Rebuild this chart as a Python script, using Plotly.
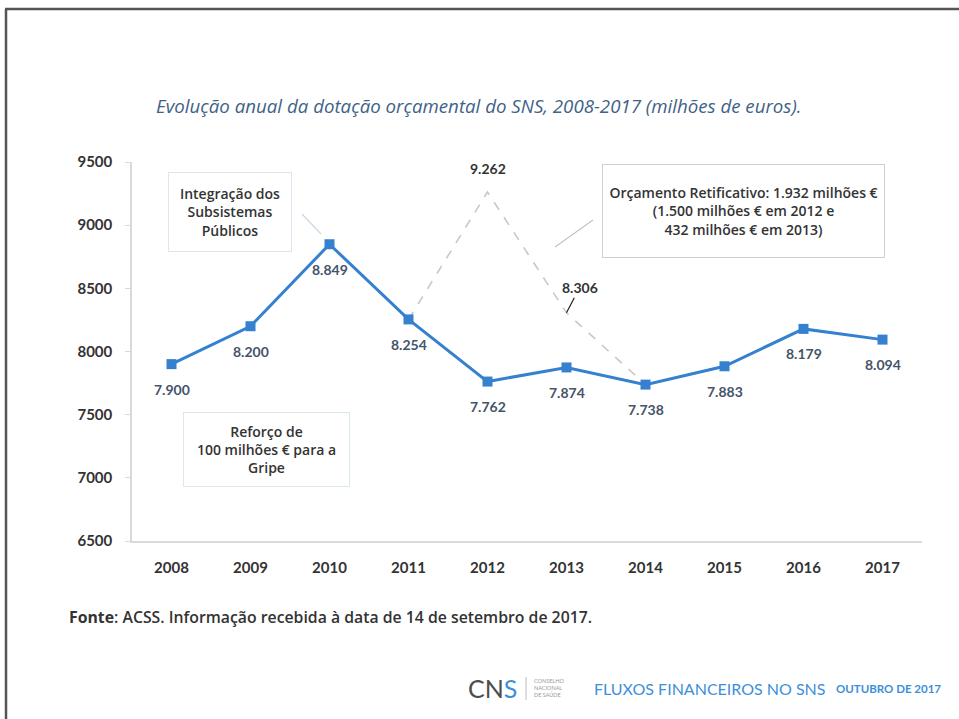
import plotly.graph_objects as go

# Annual SNS budget allocation (million euros)
years = [2008, 2009, 2010, 2011, 2012, 2013, 2014, 2015, 2016, 2017]
year_labels = ["2008", "2009", "2010", "2011", "2012", "2013", "2014", "2015", "2016", "2017"]
budget = [7900, 8200, 8849, 8254, 7762, 7874, 7738, 7883, 8179, 8094]

# Amended budget (Orçamento Retificativo) path 2011-2014
amended_years = [2011, 2012, 2013, 2014]
amended_values = [8254, 9262, 8306, 7738]

y_ticks = [6500, 7000, 7500, 8000, 8500, 9000, 9500]

FONT = "Lato"
TEXT_FONT = "Open Sans"
LINE_BLUE = "#3580cf"
LABEL_COL = "#44546a"
TEXT_DARK = "#333333"
BRAND_BLUE = "#3d8fd9"


def pt(v):
    return f"{v:,}".replace(",", ".")


# plot area in pixels: x 132..922, y 162..541
L, R, T, B = 132, 922, 162, 541


def px(x):
    return (x - L) / (R - L)


def py(y):
    return (B - y) / (B - T)


fig = go.Figure()

fig.add_trace(go.Scatter(
    x=amended_years, y=amended_values, mode="lines",
    line=dict(color="#c8c8c8", width=1.6, dash="dash"),
    hoverinfo="skip", showlegend=False,
))

fig.add_trace(go.Scatter(
    x=years, y=budget, mode="lines+markers",
    line=dict(color=LINE_BLUE, width=3),
    marker=dict(symbol="square", size=10, color=LINE_BLUE),
    showlegend=False,
))

annotations = []

# value labels under each point
for x, v in zip(years, budget):
    annotations.append(dict(
        x=x, y=v, xref="x", yref="y", text=pt(v), showarrow=False,
        yshift=-25, font=dict(family=FONT, size=14, color=LABEL_COL, weight="bold"),
    ))

# amended budget labels
annotations.append(dict(
    x=amended_years[1], y=amended_values[1], xref="x", yref="y",
    text=pt(amended_values[1]), showarrow=False, yshift=24,
    font=dict(family=FONT, size=14, color=TEXT_DARK, weight="bold"),
))
annotations.append(dict(
    x=amended_years[2], y=amended_values[2], xref="x", yref="y",
    text=pt(amended_values[2]), showarrow=True, ax=13, ay=-25,
    arrowhead=0, arrowwidth=1.2, arrowcolor="#222222", standoff=0,
    font=dict(family=FONT, size=14, color=TEXT_DARK, weight="bold"),
))

# callout boxes
box_font = dict(family=TEXT_FONT, size=14, color=TEXT_DARK, weight=600)
annotations.append(dict(
    x=px(230), y=py(212), xref="paper", yref="paper",
    text="Integração dos<br>Subsistemas<br>Públicos", showarrow=False,
    width=122, height=78, borderpad=0, borderwidth=1, bordercolor="#dbe7f0",
    xanchor="center", yanchor="middle", font=box_font,
))
annotations.append(dict(
    x=px(266.5), y=py(449.5), xref="paper", yref="paper",
    text="Reforço de<br>100 milhões € para a<br>Gripe", showarrow=False,
    width=165, height=73, borderpad=0, borderwidth=1, bordercolor="#dbe7f0",
    xanchor="center", yanchor="middle", font=box_font,
))
annotations.append(dict(
    x=px(743.5), y=py(211), xref="paper", yref="paper",
    text="Orçamento Retificativo: 1.932 milhões €<br>(1.500 milhões € em 2012 e<br>432 milhões € em 2013)",
    showarrow=False, width=281, height=92, borderpad=0, borderwidth=1,
    bordercolor="#cfcfcf", xanchor="center", yanchor="middle", font=box_font,
))

# title
annotations.append(dict(
    x=px(478.5), y=py(105), xref="paper", yref="paper",
    text="Evolução anual da dotação orçamental do SNS, 2008-2017 (milhões de euros).",
    showarrow=False, xanchor="center", yanchor="middle",
    font=dict(family=TEXT_FONT, size=18.7, color="#3f6286", style="italic"),
))

# source note
annotations.append(dict(
    x=px(67), y=py(617), xref="paper", yref="paper",
    text="<b>Fonte</b>: ACSS. Informação recebida à data de 14 de setembro de 2017.",
    showarrow=False, xanchor="left", yanchor="middle",
    font=dict(family=TEXT_FONT, size=15.8, color=TEXT_DARK, weight=600),
))

# footer branding
annotations.append(dict(
    x=px(466), y=py(688), xref="paper", yref="paper",
    text=f"CN<span style='color:{BRAND_BLUE}'>S</span>",
    showarrow=False, xanchor="left", yanchor="middle",
    font=dict(family=FONT, size=25, color="#4d4d4d"),
))
annotations.append(dict(
    x=px(532), y=py(688), xref="paper", yref="paper",
    text="CONSELHO<br>NACIONAL<br>DE SAÚDE",
    showarrow=False, xanchor="left", yanchor="middle", align="left",
    font=dict(family=FONT, size=5.5, color="#999999"),
))
annotations.append(dict(
    x=px(592), y=py(688), xref="paper", yref="paper",
    text="FLUXOS FINANCEIROS NO SNS",
    showarrow=False, xanchor="left", yanchor="middle",
    font=dict(family=FONT, size=16, color=BRAND_BLUE),
))
annotations.append(dict(
    x=px(834), y=py(688), xref="paper", yref="paper",
    text="OUTUBRO DE 2017",
    showarrow=False, xanchor="left", yanchor="middle",
    font=dict(family=FONT, size=11.5, color=BRAND_BLUE, weight="bold"),
))

shapes = [
    # callout leader lines
    dict(type="line", xref="paper", yref="paper",
         x0=px(302), y0=py(214), x1=px(321), y1=py(234),
         line=dict(color="#c9d8e6", width=1.2)),
    dict(type="line", xref="paper", yref="paper",
         x0=px(555), y0=py(247), x1=px(593), y1=py(220),
         line=dict(color="#c4c4c4", width=1.2)),
    # logo separator
    dict(type="line", xref="paper", yref="paper",
         x0=px(526), y0=py(677), x1=px(526), y1=py(700),
         line=dict(color="#bdbdbd", width=1)),
    # page frame (top and left edges)
    dict(type="line", xref="paper", yref="paper",
         x0=px(5), y0=py(9), x1=px(959), y1=py(9),
         line=dict(color="#555555", width=2.5)),
    dict(type="line", xref="paper", yref="paper",
         x0=px(6), y0=py(9), x1=px(6), y1=py(719),
         line=dict(color="#555555", width=2.5)),
]

fig.update_layout(
    width=959, height=719,
    margin=dict(l=L, r=959 - R, t=T, b=719 - B),
    paper_bgcolor="white", plot_bgcolor="white",
    annotations=annotations, shapes=shapes,
    xaxis=dict(
        range=[2007.5, 2017.5], tickvals=years, ticktext=year_labels,
        showgrid=False, zeroline=False, showline=True, linecolor="#d9d9d9",
        linewidth=1.5, ticks="", ticklabelstandoff=12,
        tickfont=dict(family=FONT, size=15, color="#333333", weight="bold"),
    ),
    yaxis=dict(
        range=[6500, 9500], tickvals=y_ticks, ticktext=[str(t) for t in y_ticks],
        showgrid=False, zeroline=False, showline=True, linecolor="#d9d9d9",
        linewidth=1.5, ticks="outside", ticklen=5, tickcolor="#d9d9d9",
        ticklabelstandoff=10,
        tickfont=dict(family=FONT, size=15, color="#333333", weight="bold"),
    ),
)

fig.write_html("out.html")
